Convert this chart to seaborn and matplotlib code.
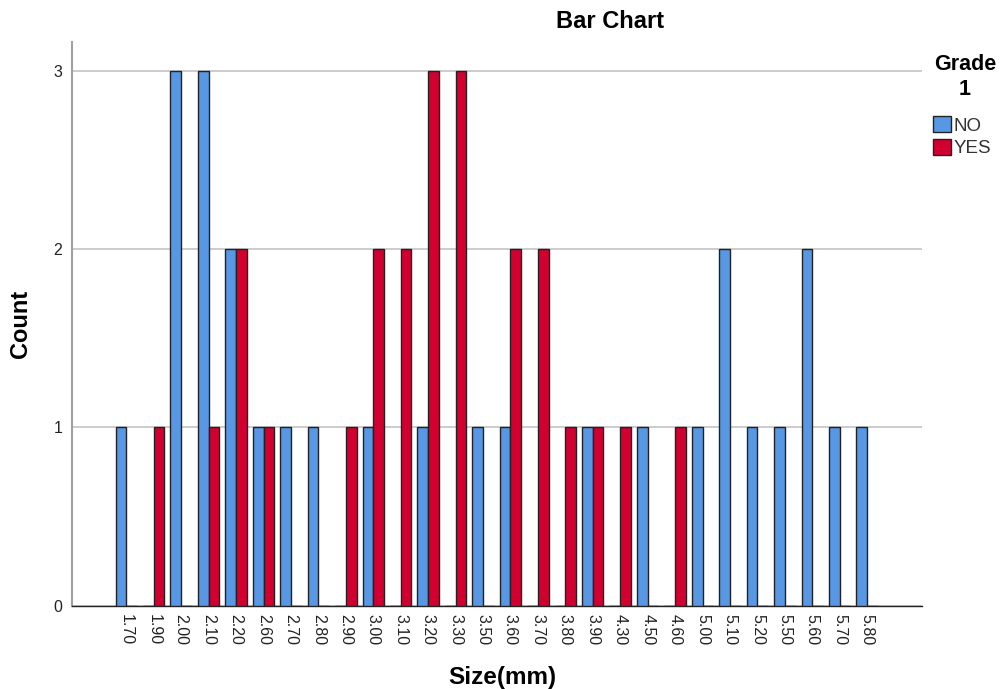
import pandas as pd
import seaborn as sns
import matplotlib.pyplot as plt
from matplotlib.patches import Patch

# sizes (mm) on the x axis, counts per grade
sizes = ["1.70", "1.90", "2.00", "2.10", "2.20", "2.60", "2.70", "2.80", "2.90", "3.00",
         "3.10", "3.20", "3.30", "3.50", "3.60", "3.70", "3.80", "3.90", "4.30", "4.50",
         "4.60", "5.00", "5.10", "5.20", "5.50", "5.60", "5.70", "5.80"]
no_counts = [1, 0, 3, 3, 2, 1, 1, 1, 0, 1,
             0, 1, 0, 1, 1, 0, 0, 1, 0, 1,
             0, 1, 2, 1, 1, 2, 1, 1]
yes_counts = [0, 1, 0, 1, 2, 1, 0, 0, 1, 2,
              2, 3, 3, 0, 2, 2, 1, 1, 1, 0,
              1, 0, 0, 0, 0, 0, 0, 0]
grades = ["NO", "YES"]
colors = {"NO": "#5797E3", "YES": "#D1002F"}

df = pd.DataFrame({
    "size": sizes * 2,
    "grade": ["NO"] * len(sizes) + ["YES"] * len(sizes),
    "count": no_counts + yes_counts,
})

sns.set_style("white")
plt.rcParams["font.family"] = ["Liberation Sans", "DejaVu Sans"]
plt.rcParams["text.color"] = "black"
plt.rcParams["axes.labelcolor"] = "black"

fig = plt.figure(figsize=(10, 6.89), dpi=100)
ax = fig.add_axes([0.072, 0.121, 0.85, 0.818])

sns.barplot(data=df, x="size", y="count", hue="grade", order=sizes, hue_order=grades,
            palette=colors, width=0.78, edgecolor="#222222", linewidth=1.0,
            saturation=1, legend=False, ax=ax, zorder=3)

ax.set_xlim(-1.98, 29.0)
ax.set_ylim(0, 3.16)
ax.set_yticks([0, 1, 2, 3])
ax.yaxis.grid(True, color="#c8c8c8", linewidth=1.3, zorder=0)
ax.set_axisbelow(True)

for s in ["top", "right"]:
    ax.spines[s].set_visible(False)
ax.spines["left"].set_color("#a0a0a0")
ax.spines["left"].set_linewidth(1.5)
ax.spines["bottom"].set_color("#222222")
ax.spines["bottom"].set_linewidth(1.0)

ax.tick_params(axis="x", length=0, pad=6, labelsize=11.5, labelcolor="#222222", labelrotation=270)
ax.tick_params(axis="y", length=0, pad=7, labelsize=11.5, labelcolor="#222222")
for lbl in ax.get_xticklabels():
    lbl.set_va("top")
    lbl.set_ha("center")

ax.set_xlabel("Size(mm)", fontsize=17.5, fontweight="bold")
ax.xaxis.set_label_coords(0.506, -0.107)
ax.set_ylabel("Count", fontsize=17, fontweight="bold")
ax.yaxis.set_label_coords(-0.047, 0.5)

fig.text(0.61, 1 - 22 / 689, "Bar Chart", ha="center", va="center",
         fontsize=17, fontweight="bold")

# legend title drawn on its own so the gap to the entries matches
fig.text(0.965, 1 - 77 / 689, "Grade\n1", ha="center", va="center",
         fontsize=15.5, fontweight="bold", multialignment="center", linespacing=1.3)

handles = [Patch(facecolor=colors[g], edgecolor="#222222", linewidth=1.0) for g in grades]
leg = ax.legend(handles, grades, loc="upper left",
                bbox_to_anchor=(0.933, 1 - 116 / 689), bbox_transform=fig.transFigure,
                frameon=False, fontsize=13.5, handlelength=0.95, handleheight=0.95,
                handletextpad=0.15, labelspacing=0.22, borderpad=0, borderaxespad=0)
for t in leg.get_texts():
    t.set_color("#333333")

fig.savefig("out.png", dpi=100)
